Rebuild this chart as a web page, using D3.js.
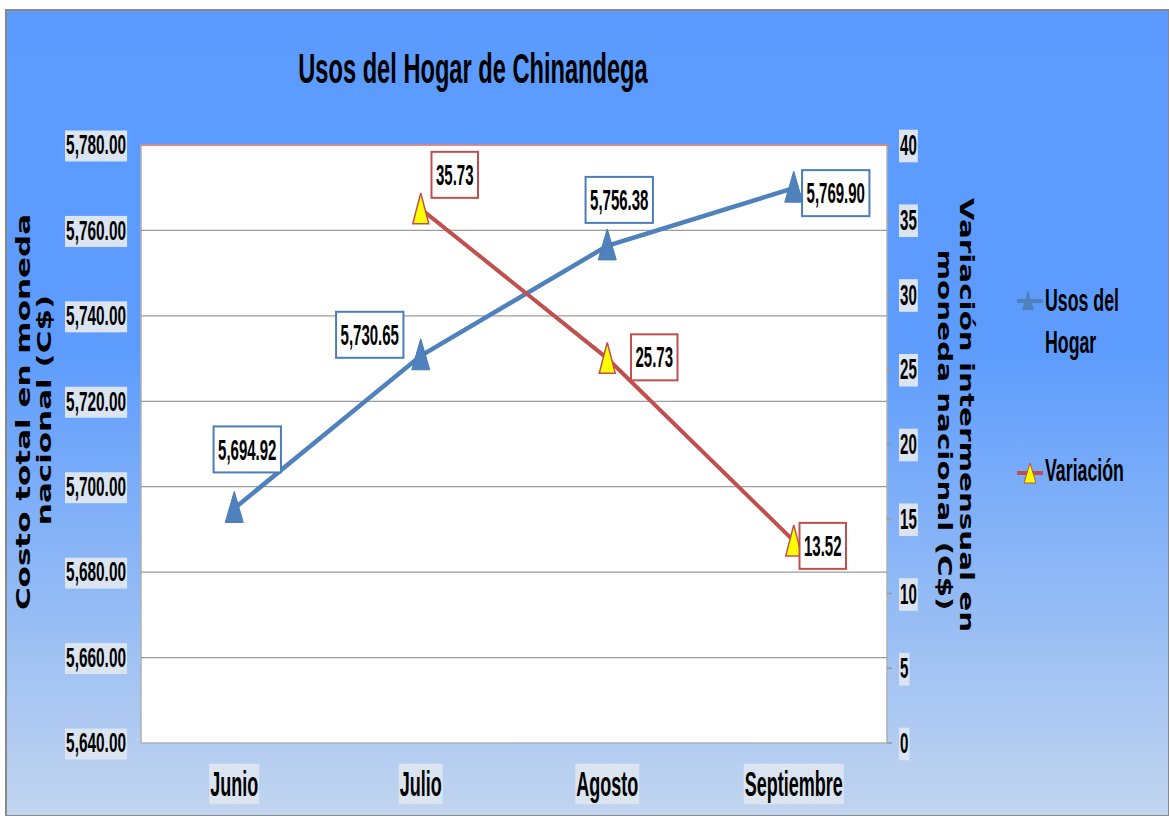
<!DOCTYPE html>
<html>
<head>
	<title></title>
	<style>
		body { margin: 0; background: #fff; }
		text { font-family: "Liberation Sans", Arial, sans-serif; font-weight: bold; }
	</style>
</head>
<body>
	<svg id="container" width="1169" height="816"></svg>
</body>
<script type="text/javascript" src="https://cdn.jsdelivr.net/npm/d3@7/dist/d3.min.js"></script>
<script>
	// data
	let months = ["Junio", "Julio", "Agosto", "Septiembre"]
	let usos = [5694.92, 5730.65, 5756.38, 5769.90]
	let variacion = [null, 35.73, 25.73, 13.52]
	let leftTicks = [5640, 5660, 5680, 5700, 5720, 5740, 5760, 5780]
	let rightTicks = [0, 5, 10, 15, 20, 25, 30, 35, 40]

	// label offsets from the point (layout only)
	let usosLabelOffset = [[13, -59], [-51, -21], [12, -46], [42, 5]]
	let varLabelOffset = [null, [34, -34], [47, -1], [29, 5]]

	let svg = d3.select("#container")
	let W = 1169, H = 816
	let pLeft = 141, pRight = 887, pTop = 145, pBottom = 743

	let defs = svg.append("defs")
	let grad = defs.append("linearGradient").attr("id", "bg")
		.attr("x1", 0).attr("y1", 0).attr("x2", 0).attr("y2", 1)
	grad.append("stop").attr("offset", "0").attr("stop-color", "#5b9bff")
	grad.append("stop").attr("offset", "0.42").attr("stop-color", "#5d9cfd")
	grad.append("stop").attr("offset", "1").attr("stop-color", "#c2d5ef")

	let hatch = defs.append("pattern").attr("id", "hatch")
		.attr("width", 3).attr("height", 3).attr("patternUnits", "userSpaceOnUse")
	hatch.append("rect").attr("width", 3).attr("height", 3).attr("fill", "#e2eaf5")
	hatch.append("path").attr("d", "M0,3 L3,0").attr("stroke", "#c9d5e6").attr("stroke-width", 0.8)

	// background
	svg.append("rect").attr("x", 6).attr("y", 10).attr("width", W - 6).attr("height", H - 10)
		.attr("fill", "url(#bg)").attr("stroke", "#888").attr("stroke-width", 2)

	// plot area
	svg.append("rect").attr("x", pLeft).attr("y", pTop).attr("width", pRight - pLeft).attr("height", pBottom - pTop)
		.attr("fill", "#fff").attr("stroke", "#b0b0b0").attr("stroke-width", 1.5)

	let x = d3.scaleBand().domain(months).range([pLeft, pRight])
	let yL = d3.scaleLinear().domain([5640, 5780]).range([pBottom, pTop])
	let yR = d3.scaleLinear().domain([0, 40]).range([pBottom, pTop])
	let cx = d => x(d) + x.bandwidth() / 2

	// gridlines
	svg.append("g").selectAll("line").data(leftTicks.slice(1))
		.enter().append("line")
		.attr("x1", pLeft).attr("x2", pRight)
		.attr("y1", d => yL(d)).attr("y2", d => yL(d))
		.attr("stroke", d => d === 5780 ? "#e07a7a" : "#9a9a9a").attr("stroke-width", 1.3)

	// narrow text: normal font squeezed horizontally
	function ntext(parent, tx, ty, txt, size, sx, anchor) {
		let g = parent.append("g").attr("transform", `translate(${tx},${ty}) scale(${sx},1)`)
		let t = g.append("text").attr("font-size", size)
			.attr("text-anchor", anchor).attr("dominant-baseline", "central").text(txt)
		return { g: g, t: t, b: t.node().getBBox() }
	}

	// tick label with hatched background
	function labelWithBg(tx, ty, txt, size, sx, anchor) {
		let r = ntext(svg, tx, ty, txt, size, sx, anchor)
		r.g.insert("rect", "text").attr("x", r.b.x - 2).attr("y", r.b.y + 1)
			.attr("width", r.b.width + 4).attr("height", r.b.height)
			.attr("fill", "url(#hatch)")
	}

	leftTicks.forEach(v => labelWithBg(126, yL(v), d3.format(",.2f")(v), 28, 0.55, "end"))

	// right axis ticks
	rightTicks.forEach(v => {
		svg.append("line").attr("x1", pRight).attr("x2", pRight + 5)
			.attr("y1", yR(v)).attr("y2", yR(v)).attr("stroke", "#999").attr("stroke-width", 1.5)
		labelWithBg(900, yR(v), v, 29, 0.52, "start")
	})

	// x labels
	months.forEach(m => labelWithBg(cx(m), 783, m, 36, 0.5, "middle"))

	// title
	ntext(svg, 473, 68, "Usos del Hogar de Chinandega", 43, 0.55, "middle")

	// axis titles (wide font, stretched along the text)
	let axisFont = "'DejaVu Sans', Verdana, sans-serif"
	function axisTitle(tx, ty, rot, stretch, txt) {
		svg.append("text").attr("transform", `translate(${tx},${ty}) rotate(${rot}) scale(${stretch},1)`)
			.attr("text-anchor", "middle").attr("dominant-baseline", "central")
			.attr("font-size", 20).style("font-family", axisFont).style("font-weight", "bold").text(txt)
	}
	axisTitle(23, 412, -90, 1.55, "Costo total en moneda")
	axisTitle(44, 410, -90, 1.55, "nacional (C$)")
	axisTitle(967, 415, 90, 1.47, "Variación intermensual en")
	axisTitle(945, 430, 90, 1.47, "moneda nacional (C$)")

	// lines
	let usosPts = months.map((m, i) => ({ m: m, v: usos[i], i: i }))
	let varPts = months.map((m, i) => ({ m: m, v: variacion[i], i: i })).filter(d => d.v !== null)

	svg.append("path").datum(usosPts)
		.attr("d", d3.line().x(d => cx(d.m)).y(d => yL(d.v)))
		.attr("fill", "none").attr("stroke", "#4f81bd").attr("stroke-width", 4.5)
	svg.append("path").datum(varPts)
		.attr("d", d3.line().x(d => cx(d.m)).y(d => yR(d.v)))
		.attr("fill", "none").attr("stroke", "#c0504d").attr("stroke-width", 4)

	let tri = (hw, up, down) => `M0,${-up} L${hw},${down} L${-hw},${down} Z`

	svg.append("g").selectAll("path").data(usosPts).enter().append("path")
		.attr("transform", d => `translate(${cx(d.m)},${yL(d.v)})`)
		.attr("d", tri(9, 17, 14)).attr("fill", "#4f81bd").attr("stroke", "#4a7ab3").attr("stroke-width", 1)
	svg.append("g").selectAll("path").data(varPts).enter().append("path")
		.attr("transform", d => `translate(${cx(d.m)},${yR(d.v)})`)
		.attr("d", tri(8, 16, 15)).attr("fill", "#ffff00").attr("stroke", "#c0504d").attr("stroke-width", 1.5)

	// data labels
	function boxLabel(px, py, txt, color) {
		let sx = 0.5
		let rect = svg.append("rect")
		let r = ntext(svg, px, py, txt, 30, sx, "middle")
		let w = r.b.width * sx + 9
		rect.attr("x", px - w / 2).attr("y", py - 23).attr("width", w).attr("height", 46)
			.attr("fill", "#fff").attr("stroke", color).attr("stroke-width", 2)
	}
	usosPts.forEach(d => {
		let o = usosLabelOffset[d.i]
		boxLabel(cx(d.m) + o[0], yL(d.v) + o[1], d3.format(",.2f")(d.v), "#4a7ebb")
	})
	varPts.forEach(d => {
		let o = varLabelOffset[d.i]
		boxLabel(cx(d.m) + o[0], yR(d.v) + o[1], d3.format(".2f")(d.v), "#c0504d")
	})

	// legend
	svg.append("line").attr("x1", 1017).attr("x2", 1043).attr("y1", 301).attr("y2", 301)
		.attr("stroke", "#4f81bd").attr("stroke-width", 4)
	svg.append("path").attr("transform", "translate(1028,301)").attr("d", tri(6, 11, 9)).attr("fill", "#4f81bd")
	ntext(svg, 1045, 300, "Usos del", 32, 0.555, "start")
	ntext(svg, 1045, 342, "Hogar", 32, 0.555, "start")
	svg.append("line").attr("x1", 1017).attr("x2", 1043).attr("y1", 473).attr("y2", 473)
		.attr("stroke", "#c0504d").attr("stroke-width", 4)
	svg.append("path").attr("transform", "translate(1030,473)").attr("d", tri(6, 10, 10))
		.attr("fill", "#ffff00").attr("stroke", "#c0504d").attr("stroke-width", 1)
	ntext(svg, 1045, 470, "Variación", 32, 0.555, "start")
</script>
</html>
